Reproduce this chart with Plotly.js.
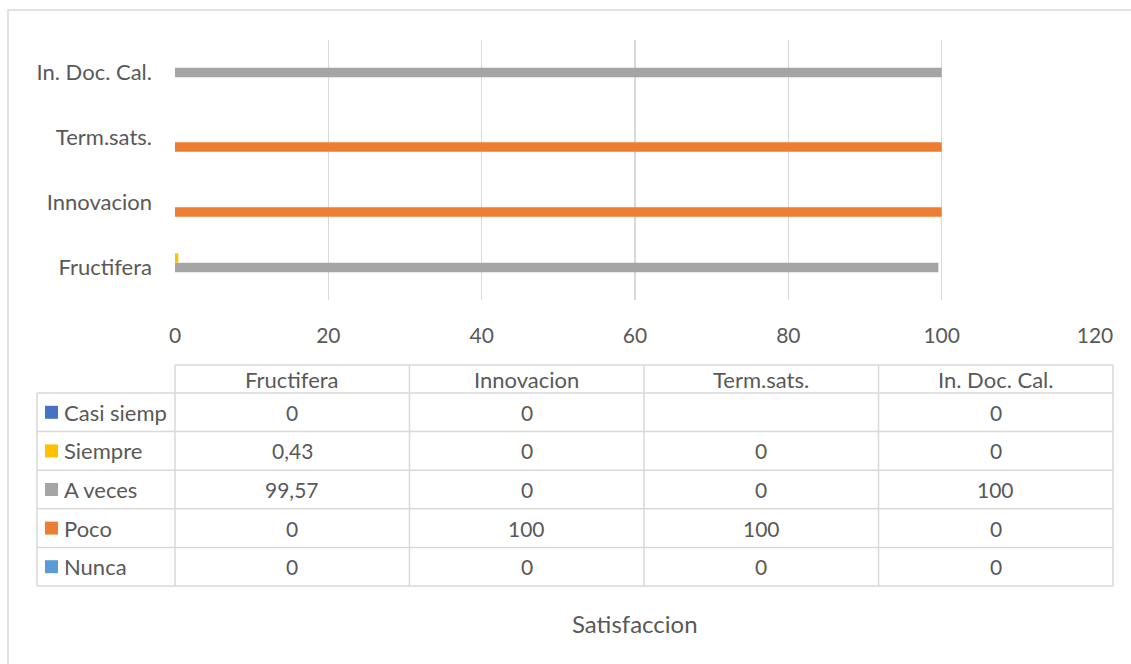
<!DOCTYPE html>
<html>
<head>
<meta charset="utf-8">
<script src="https://cdn.plot.ly/plotly-3.0.1.min.js"></script>
<style>html,body{margin:0;padding:0;background:#fff;}#chart{width:1131px;height:664px;}</style>
</head>
<body>
<div id="chart"></div>
<script>
const categories = ["Fructifera", "Innovacion", "Term.sats.", "In. Doc. Cal."];
const seriesNames = ["Nunca", "Poco", "A veces", "Siempre", "Casi siemp"];
const nunca = [0, 0, 0, 0];
const poco = [0, 100, 100, 0];
const aVeces = [99.57, 0, 0, 100];
const siempre = [0.43, 0, 0, 0];
const casiSiemp = [0, 0, null, 0];
const seriesColors = ["#5B9BD5", "#ED7D31", "#A5A5A5", "#FFC000", "#4472C4"];
const xTicks = [0, 20, 40, 60, 80, 100, 120];
const chartTitle = "Satisfaccion";

const seriesValues = [nunca, poco, aVeces, siempre, casiSiemp];
const FONT = "Lato, 'Open Sans', sans-serif";
const TXT = "#595959";
const LINE = "#d9d9d9";
const FS = 22;

// geometry (pixels)
const W = 1131, H = 664;
const L = 175, R = 1095, T = 40, B = 300;
const px2x = p => (p - L) / (R - L);
const py2y = p => (B - p) / (B - T);

const traces = seriesNames.map((name, i) => ({
  type: "bar",
  orientation: "h",
  name: name,
  y: categories,
  x: seriesValues[i],
  marker: {color: seriesColors[i]},
  hoverinfo: "none"
}));

const shapes = [];
const annotations = [];

// outer chart frame
shapes.push({type: "rect", xref: "paper", yref: "paper",
  x0: px2x(8), x1: px2x(1140), y0: py2y(680), y1: py2y(10),
  line: {color: LINE, width: 1.5}, fillcolor: "rgba(0,0,0,0)", layer: "below"});

// data table
const colX = [175, 409.5, 644, 878.5, 1113];
const headerTop = 365, headerBot = 393, rowH = 38.6;
const rowHeadL = 37;
const tableRows = seriesNames.slice().reverse(); // top to bottom
const nRows = tableRows.length;
const tableBot = headerBot + nRows * rowH;

function hline(x0, x1, y) {
  shapes.push({type: "line", xref: "paper", yref: "paper",
    x0: px2x(x0), x1: px2x(x1), y0: py2y(y), y1: py2y(y), line: {color: LINE, width: 1.5}});
}
function vline(x, y0, y1) {
  shapes.push({type: "line", xref: "paper", yref: "paper",
    x0: px2x(x), x1: px2x(x), y0: py2y(y0), y1: py2y(y1), line: {color: LINE, width: 1.5}});
}
hline(colX[0], colX[colX.length - 1], headerTop);
for (let r = 0; r <= nRows; r++) {
  hline(rowHeadL, colX[colX.length - 1], headerBot + r * rowH);
}
colX.forEach(x => vline(x, headerTop, tableBot));
vline(rowHeadL, headerBot, tableBot);

const fmt = v => (v === null || v === undefined) ? "" : String(v).replace(".", ",");

categories.forEach((c, j) => {
  const cx = (colX[j] + colX[j + 1]) / 2;
  annotations.push({xref: "paper", yref: "paper", x: px2x(cx), y: py2y((headerTop + headerBot) / 2),
    text: c, showarrow: false, xanchor: "center", yanchor: "middle",
    font: {family: FONT, size: FS, color: TXT}});
});

tableRows.forEach((name, r) => {
  const si = seriesNames.indexOf(name);
  const cy = headerBot + r * rowH + rowH / 2;
  shapes.push({type: "rect", xref: "paper", yref: "paper",
    x0: px2x(45), x1: px2x(58), y0: py2y(cy + 6.5), y1: py2y(cy - 6.5),
    fillcolor: seriesColors[si], line: {width: 0}});
  annotations.push({xref: "paper", yref: "paper", x: px2x(62), y: py2y(cy),
    text: name, showarrow: false, xanchor: "left", yanchor: "middle",
    font: {family: FONT, size: FS, color: TXT}});
  categories.forEach((c, j) => {
    const cx = (colX[j] + colX[j + 1]) / 2;
    annotations.push({xref: "paper", yref: "paper", x: px2x(cx), y: py2y(cy),
      text: fmt(seriesValues[si][j]), showarrow: false, xanchor: "center", yanchor: "middle",
      font: {family: FONT, size: FS - 1, color: TXT}});
  });
});

// axis title below table
annotations.push({xref: "paper", yref: "paper", x: px2x(635), y: py2y(623),
  text: chartTitle, showarrow: false, xanchor: "center", yanchor: "middle",
  font: {family: FONT, size: 24, color: TXT}});

const layout = {
  width: W, height: H,
  margin: {l: L, r: W - R, t: T, b: H - B, pad: 0},
  paper_bgcolor: "#fff", plot_bgcolor: "#fff",
  showlegend: false,
  barmode: "group",
  bargap: 0.27,
  bargroupgap: 0,
  hovermode: false,
  xaxis: {
    range: [0, 120], tickvals: xTicks, ticktext: xTicks.map(String),
    showgrid: true, gridcolor: LINE, gridwidth: 1.5,
    zeroline: false, showline: false, ticks: "",
    ticklabelstandoff: 21,
    tickfont: {family: FONT, size: FS - 1, color: TXT}, fixedrange: true
  },
  yaxis: {
    type: "category", categoryorder: "array", categoryarray: categories,
    showgrid: false, zeroline: false, showline: false, ticks: "",
    ticklabelstandoff: 22,
    tickfont: {family: FONT, size: FS, color: TXT}, fixedrange: true
  },
  shapes: shapes,
  annotations: annotations
};

Plotly.newPlot("chart", traces, layout, {displayModeBar: false, staticPlot: true});
</script>
</body>
</html>
